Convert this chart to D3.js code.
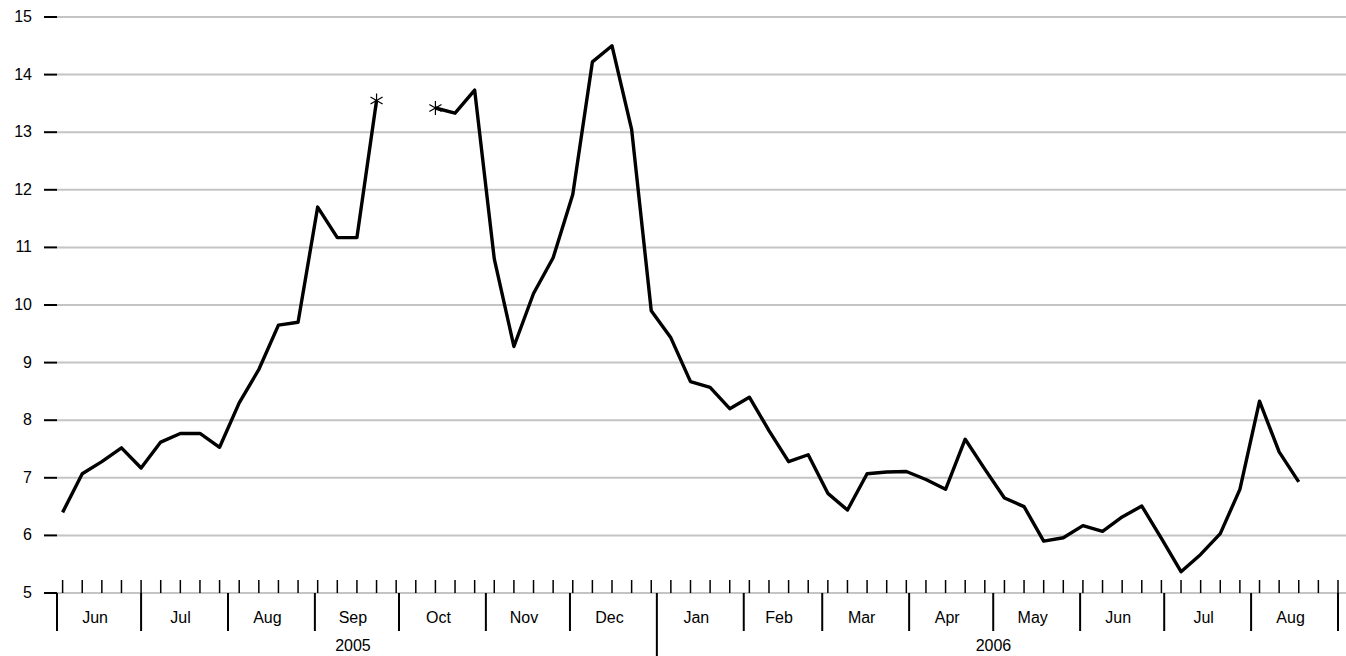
<!DOCTYPE html>
<html>
<head>
<meta charset="utf-8">
<script src="https://d3js.org/d3.v7.min.js"></script>
<style>body{margin:0;background:#fff}text{font-family:"Liberation Sans",Arial,sans-serif;font-size:16px;fill:#000}</style>
</head>
<body>
<script>
var width = 1346, height = 656;
// weekly values from 3 Jun 2005; null = missing weeks
var startDate = new Date(2005, 5, 3);
var values = [6.4, 7.07, 7.28, 7.52, 7.17, 7.62, 7.77, 7.77, 7.53, 8.3, 8.88, 9.65, 9.7, 11.7, 11.17, 11.17, 13.55, null, null,
  13.42, 13.33, 13.73, 10.8, 9.28, 10.2, 10.82, 11.92, 14.22, 14.5, 13.05, 9.9, 9.43, 8.67, 8.57, 8.2, 8.4, 7.82, 7.28, 7.4,
  6.73, 6.44, 7.07, 7.1, 7.11, 6.97, 6.8, 7.67, 7.15, 6.65, 6.5, 5.9, 5.96, 6.17, 6.07, 6.32, 6.51, 5.95, 5.37, 5.67, 6.03,
  6.8, 8.33, 7.45, 6.93];
var yTicks = [5, 6, 7, 8, 9, 10, 11, 12, 13, 14, 15];
var monthLabels = ["Jun","Jul","Aug","Sep","Oct","Nov","Dec","Jan","Feb","Mar","Apr","May","Jun","Jul","Aug"];
var years = ["2005", "2006"];

var data = values.map(function (v, i) { return {d: d3.timeDay.offset(startDate, i * 7), v: v}; });

var svg = d3.select("body").append("svg").attr("width", width).attr("height", height);
var x = d3.scaleTime().domain([new Date(2005, 5, 1), new Date(2006, 8, 1)]).range([57, 1338]);
var y = d3.scaleLinear().domain([5, 15]).range([593, 17]);

// gridlines + y ticks
svg.selectAll(".grid").data(yTicks).enter().append("line")
  .attr("x1", 57).attr("x2", width).attr("y1", y).attr("y2", y)
  .attr("stroke", "#c4c4c4").attr("stroke-width", 2);
svg.selectAll(".yt").data(yTicks).enter().append("line")
  .attr("x1", 44).attr("x2", 57).attr("y1", y).attr("y2", y)
  .attr("stroke", "#000").attr("stroke-width", 2);
svg.selectAll(".yl").data(yTicks).enter().append("text")
  .attr("x", 32).attr("y", function (d) { return y(d) + 5; })
  .attr("text-anchor", "end").text(function (d) { return d; });

// weekly ticks
var weeks = d3.range(0, 66).map(function (i) { return d3.timeDay.offset(startDate, i * 7); })
  .filter(function (d) { return x(d) < width; });
svg.selectAll(".wt").data(weeks).enter().append("line")
  .attr("x1", x).attr("x2", x).attr("y1", 580).attr("y2", 593)
  .attr("stroke", "#000").attr("stroke-width", 1.5);

// month ticks and labels
var months = d3.timeMonth.range(new Date(2005, 5, 1), new Date(2006, 8, 2));
svg.selectAll(".mt").data(months).enter().append("line")
  .attr("x1", x).attr("x2", x).attr("y1", 593)
  .attr("y2", function (d) { return d.getMonth() === 0 ? 660 : 631; })
  .attr("stroke", "#000").attr("stroke-width", 2);
svg.selectAll(".ml").data(months.slice(0, monthLabels.length)).enter().append("text")
  .attr("x", function (d) { return (x(d) + x(d3.timeMonth.offset(d, 1))) / 2 - 4; })
  .attr("y", 623).attr("text-anchor", "middle")
  .text(function (d, i) { return monthLabels[i]; });
var yearSpans = [[new Date(2005, 5, 1), new Date(2006, 0, 1)], [new Date(2006, 0, 1), new Date(2006, 8, 1)]];
svg.selectAll(".yr").data(yearSpans).enter().append("text")
  .attr("x", function (d) { return (x(d[0]) + x(d[1])) / 2 - 4; })
  .attr("y", 651).attr("text-anchor", "middle")
  .text(function (d, i) { return years[i]; });

// line
var line = d3.line().defined(function (d) { return d.v !== null; })
  .x(function (d) { return x(d.d); }).y(function (d) { return y(d.v); });
svg.append("path").datum(data).attr("d", line)
  .attr("fill", "none").attr("stroke", "#000").attr("stroke-width", 3.4).attr("stroke-linejoin", "round");

// asterisks at segment ends next to the gap
var ends = data.filter(function (d, i) {
  return d.v !== null && ((data[i + 1] && data[i + 1].v === null) || (data[i - 1] && data[i - 1].v === null));
});
ends.forEach(function (d) {
  var g = svg.append("g").attr("transform", "translate(" + x(d.d) + "," + y(d.v) + ")");
  [0, 60, 120].forEach(function (a) {
    g.append("line").attr("x1", 0).attr("y1", -7).attr("x2", 0).attr("y2", 7)
      .attr("transform", "rotate(" + a + ")").attr("stroke", "#000").attr("stroke-width", 1.2);
  });
});
</script>
</body>
</html>
